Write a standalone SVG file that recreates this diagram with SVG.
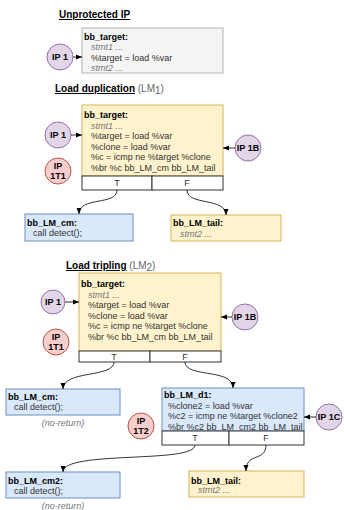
<svg xmlns="http://www.w3.org/2000/svg" width="344" height="510" viewBox="0 0 344 510">
<style>
text{font-family:"Liberation Sans",Arial,sans-serif;font-size:9px;fill:#333}
.h{font-weight:bold;fill:#000}
.i{font-style:italic;fill:#777}
.t{font-size:10px;font-weight:bold;fill:#000;text-decoration:underline}
.lm{font-size:10px;fill:#666}
.c{text-anchor:middle}
.ipt{font-weight:bold;fill:#000;text-anchor:middle}
.gray{fill:#f5f5f5;stroke:#b3b3b3}
.yel{fill:#fff2cc;stroke:#d6b656}
.blu{fill:#dae8fc;stroke:#6c8ebf}
.row{fill:#fff;stroke:#333}
.pur{fill:#e1d5e7;stroke:#9673a6}
.red{fill:#f8cecc;stroke:#b85450}
.e{fill:none;stroke:#000;stroke-width:0.8;marker-end:url(#a)}
</style>
<defs>
<marker id="a" viewBox="0 0 6 6" refX="6" refY="3" markerWidth="6" markerHeight="6" markerUnits="userSpaceOnUse" orient="auto">
<path d="M0,0.5 L6,3 L0,5.5 z" fill="#000"/>
</marker>
</defs>

<text class="t" x="59" y="18">Unprotected IP</text>
<text x="55" y="92"><tspan class="t">Load duplication</tspan><tspan class="lm"> (LM</tspan><tspan class="lm" font-size="7" dy="2">1</tspan><tspan class="lm" dy="-2">)</tspan></text>
<text x="66" y="269"><tspan class="t">Load tripling</tspan><tspan class="lm"> (LM</tspan><tspan class="lm" font-size="7" dy="2">2</tspan><tspan class="lm" dy="-2">)</tspan></text>

<g id="bb_target0">
<rect class="gray" x="82" y="28" width="141" height="45"/>
<text class="h" x="84" y="39.5">bb_target:</text>
<text class="i" x="91" y="50">stmt1 ...</text>
<text x="91" y="60.5">%target = load %var</text>
<text class="i" x="91" y="71">stmt2 ...</text>
</g>
<g id="ip1_0"><circle class="pur" cx="60" cy="57" r="13"/><text class="ipt" x="60" y="60">IP 1</text></g>

<g id="bb_target1">
<rect class="yel" x="82" y="105" width="141" height="71"/>
<text class="h" x="84" y="118">bb_target:</text>
<text class="i" x="91" y="128.5">stmt1 ...</text>
<text x="91" y="139">%target = load %var</text>
<text x="91" y="149.5">%clone = load %var</text>
<text x="91" y="160">%c = icmp ne %target %clone</text>
<text x="91" y="170.5">%br %c bb_LM_cm bb_LM_tail</text>
<rect class="row" x="82" y="176" width="70" height="14"/>
<rect class="row" x="152" y="176" width="71" height="14"/>
<text class="c" x="117" y="186" fill="#666">T</text>
<text class="c" x="187" y="186" fill="#666">F</text>
</g>
<g id="ip1_1"><circle class="pur" cx="58" cy="135" r="13"/><text class="ipt" x="58" y="138">IP 1</text></g>
<g id="ip1t1_1"><circle class="red" cx="58" cy="171" r="13"/><text class="ipt" x="58" y="169">IP</text><text class="ipt" x="58" y="179">1T1</text></g>
<g id="ip1b_1"><circle class="pur" cx="248" cy="148" r="13"/><text class="ipt" x="248" y="151">IP 1B</text></g>

<g id="bb_LM_cm1">
<rect class="blu" x="25" y="214" width="108" height="27"/>
<text class="h" x="27" y="225.5">bb_LM_cm:</text>
<text x="33" y="236">call detect();</text>
</g>
<g id="bb_LM_tail1">
<rect class="yel" x="171" y="215" width="110" height="26"/>
<text class="h" x="173" y="226">bb_LM_tail:</text>
<text class="i" x="180" y="236.5">stmt2 ...</text>
</g>

<g id="bb_target2">
<rect class="yel" x="79" y="273" width="142" height="78"/>
<text class="h" x="81" y="287">bb_target:</text>
<text class="i" x="88" y="297.5">stmt1 ...</text>
<text x="88" y="308">%target = load %var</text>
<text x="88" y="318.5">%clone = load %var</text>
<text x="88" y="329">%c = icmp ne %target %clone</text>
<text x="88" y="339.5">%br %c bb_LM_cm bb_LM_tail</text>
<rect class="row" x="79" y="351" width="71" height="11"/>
<rect class="row" x="150" y="351" width="71" height="11"/>
<text class="c" x="114" y="359.5" fill="#666">T</text>
<text class="c" x="185" y="359.5" fill="#666">F</text>
</g>
<g id="ip1_2"><circle class="pur" cx="53" cy="302" r="12"/><text class="ipt" x="53" y="305">IP 1</text></g>
<g id="ip1t1_2"><circle class="red" cx="56" cy="342" r="13"/><text class="ipt" x="56" y="340">IP</text><text class="ipt" x="56" y="350">1T1</text></g>
<g id="ip1b_2"><circle class="pur" cx="245" cy="317" r="13"/><text class="ipt" x="245" y="320">IP 1B</text></g>

<g id="bb_LM_cm2a">
<rect class="blu" x="6" y="389" width="114" height="26"/>
<text class="h" x="8" y="399.5">bb_LM_cm:</text>
<text x="14" y="410">call detect();</text>
<text class="i c" x="63" y="426" font-size="7">(no-return)</text>
</g>

<g id="bb_LM_d1">
<rect class="blu" x="162" y="388" width="142" height="43"/>
<text class="h" x="164" y="398">bb_LM_d1:</text>
<text x="168" y="408.5">%clone2 = load %var</text>
<text x="168" y="419">%c2 = icmp ne %target %clone2</text>
<text x="168" y="429.5">%br %c2 bb_LM_cm2 bb_LM_tail</text>
<rect class="row" x="162" y="431" width="67" height="14"/>
<rect class="row" x="229" y="431" width="75" height="14"/>
<text class="c" x="195" y="441" fill="#666">T</text>
<text class="c" x="266" y="441" fill="#666">F</text>
</g>
<g id="ip1c"><circle class="pur" cx="329" cy="417" r="13"/><text class="ipt" x="329" y="420">IP 1C</text></g>
<g id="ip1t2"><circle class="red" cx="141" cy="426" r="13"/><text class="ipt" x="141" y="424">IP</text><text class="ipt" x="141" y="434">1T2</text></g>

<g id="bb_LM_cm2">
<rect class="blu" x="6" y="472" width="114" height="26"/>
<text class="h" x="8" y="484">bb_LM_cm2:</text>
<text x="14" y="494">call detect();</text>
<text class="i c" x="63" y="509" font-size="7">(no-return)</text>
</g>
<g id="bb_LM_tail2">
<rect class="yel" x="189" y="471" width="115" height="26"/>
<text class="h" x="191" y="483.5">bb_LM_tail:</text>
<text class="i" x="198" y="493">stmt2 ...</text>
</g>

<g id="connectors">
<path class="e" d="M73,57 L82,57"/>
<path class="e" d="M71,135 L82,135"/>
<path class="e" d="M235,148 L223,148"/>
<path class="e" d="M65,302 L79,302"/>
<path class="e" d="M232,317 L221,317"/>
<path class="e" d="M316,417 L304,417"/>
<path class="e" d="M117,190 C117,206 79,196 79,214"/>
<path class="e" d="M187,190 C187,206 226,197 226,215"/>
<path class="e" d="M114,362 C114,378 63,370 63,389"/>
<path class="e" d="M185,362 C185,378 233,368 233,388"/>
<path class="e" d="M195,445 C195,464 63,450 63,472"/>
<path class="e" d="M266,445 C266,462 246,452 246,471"/>
</g>
</svg>
